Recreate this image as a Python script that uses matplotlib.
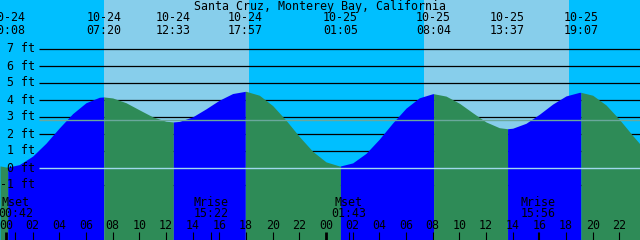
import matplotlib
matplotlib.use('Agg')
import matplotlib.pyplot as plt
import numpy as np

# ---------------- data ----------------
title = "Santa Cruz, Monterey Bay, California"

# tide events (hours from 10-24 00:00)
event_dates = ['10-24', '10-24', '10-24', '10-24', '10-25', '10-25', '10-25', '10-25']
event_times = ['00:08', '07:20', '12:33', '17:57', '01:05', '08:04', '13:37', '19:07']
event_hours = [0.133, 7.333, 12.55, 17.95, 25.083, 32.067, 37.617, 43.117]
event_heights = [0.05, 4.18, 2.71, 4.51, 0.12, 4.37, 2.31, 4.45]

# tide curve (hours, feet)
sample_hours = [-0.45, 0, 0.133, 1, 2, 3, 4, 5, 6, 7, 7.333, 8, 9, 10, 11, 12, 12.55,
                13, 14, 15, 16, 17, 17.95, 18, 19, 20, 21, 22, 23, 24, 25, 25.083,
                26, 27, 28, 29, 30, 31, 32, 32.067, 33, 34, 35, 36, 37, 37.617,
                38, 39, 40, 41, 42, 43, 43.117, 44, 45, 46, 47, 47.55, 48]
sample_heights = [0.12, 0.06, 0.05, 0.20, 0.70, 1.46, 2.36, 3.20, 3.84, 4.16, 4.18,
                  4.12, 3.84, 3.42, 3.01, 2.75, 2.71, 2.74, 3.01, 3.48, 3.99, 4.38,
                  4.51, 4.51, 4.28, 3.67, 2.81, 1.85, 0.98, 0.36, 0.12, 0.12, 0.30,
                  0.86, 1.70, 2.65, 3.52, 4.13, 4.37, 4.37, 4.23, 3.81, 3.25, 2.71,
                  2.37, 2.31, 2.34, 2.63, 3.16, 3.76, 4.24, 4.45, 4.45, 4.28, 3.71,
                  2.86, 1.91, 1.41, 1.05]

mean_level = 2.81
feet_levels = [-1, 0, 1, 2, 3, 4, 5, 6, 7]

sunrise_hours = [7.35, 31.35]
sunset_hours = [18.225, 42.225]

moon_labels = ['Mset', 'Mrise', 'Mset', 'Mrise']
moon_times = ['00:42', '15:22', '01:43', '15:56']
moon_hours = [0.7, 15.367, 25.717, 39.933]

hour_ticks = list(range(0, 50, 2))

# ---------------- styling ----------------
NIGHT = '#00BFFF'
DAY = '#87CEEB'
RISE = '#0000FF'
FALL = '#2E8B57'
MEANC = '#6AA89C'
ZEROC = '#9FD8EE'
FONT = 'DejaVu Sans Mono'
FS = 8.4

PX_PER_H = 320 / 24.0
X0 = 6.0
PX_PER_FT = 17.0
Y0 = 168.0


def px2h(px):
    return (px - X0) / PX_PER_H


def py2ft(py):
    return (Y0 - py) / PX_PER_FT


fig = plt.figure(figsize=(6.4, 2.4), dpi=100)
fig.patch.set_facecolor(NIGHT)
ax = fig.add_axes([0, 0, 1, 1])
ax.set_xlim(px2h(0), px2h(640))
ax.set_ylim(py2ft(240), py2ft(0))
ax.axis('off')

ybot = py2ft(240)
ytop = py2ft(0)

# daylight
for sr, ss in zip(sunrise_hours, sunset_hours):
    ax.axvspan(sr, ss, color=DAY, lw=0, zorder=0)

# grid lines (behind water)
xl = px2h(39)
xr = px2h(640)
for v in feet_levels:
    ax.plot([xl, xr], [v, v], color='black', lw=0.9, zorder=1, solid_capstyle='butt')

# water
sh = np.array(sample_hours)
sv = np.array(sample_heights)
bounds = [sh[0]] + list(event_hours) + [sh[-1]]
for a, b in zip(bounds[:-1], bounds[1:]):
    m = (sh >= a - 1e-9) & (sh <= b + 1e-9)
    xs = sh[m]
    ys = sv[m]
    col = RISE if ys[-1] > ys[0] else FALL
    ax.fill_between(xs, ys, ybot, color=col, lw=0, zorder=2, antialiased=True)

# mean and datum lines
ax.plot([xl, xr], [mean_level, mean_level], color=MEANC, lw=1.0, zorder=3, solid_capstyle='butt')
ax.plot([xl, xr], [0, 0], color=ZEROC, lw=1.0, zorder=3, solid_capstyle='butt')

# y labels
for v in feet_levels:
    ax.text(px2h(35.5), v, f"{v} ft", ha='right', va='center', family=FONT,
            fontsize=FS, color='black', zorder=5)

# title
ax.text(px2h(320), py2ft(6.5), title, ha='center', va='center', family=FONT,
        fontsize=FS, color='black', zorder=5)

# event labels
for d, t, h in zip(event_dates, event_times, event_hours):
    ax.text(h, py2ft(17.5), d, ha='center', va='center', family=FONT, fontsize=FS,
            color='black', zorder=5)
    ax.text(h, py2ft(30), t, ha='center', va='center', family=FONT, fontsize=FS,
            color='black', zorder=5)

# moon labels
for lab, t, h in zip(moon_labels, moon_times, moon_hours):
    ax.text(h, py2ft(202.5), lab, ha='center', va='center', family=FONT, fontsize=FS,
            color='black', zorder=5)
    ax.text(h, py2ft(213.5), t, ha='center', va='center', family=FONT, fontsize=FS,
            color='black', zorder=5)
    ax.plot([h, h], [py2ft(232), ybot], color='black', lw=0.8, zorder=5,
            solid_capstyle='butt')

# hour labels and ticks
for h in hour_ticks:
    ax.text(h, py2ft(225.5), f"{h % 24:02d}", ha='center', va='center', family=FONT,
            fontsize=FS, color='black', zorder=5)
    lw = 2.0 if h % 24 == 0 else 0.8
    ax.plot([h, h], [py2ft(232), ybot], color='black', lw=lw, zorder=5,
            solid_capstyle='butt')

fig.savefig('out.png', dpi=100, facecolor=fig.get_facecolor())
